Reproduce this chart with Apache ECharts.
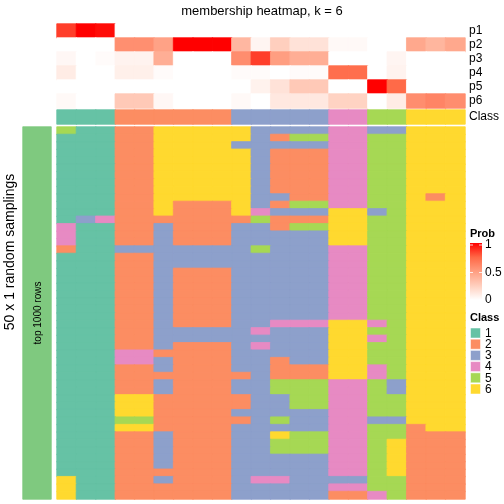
<!DOCTYPE html>
<html><head><meta charset="utf-8">
<script src="https://cdn.jsdelivr.net/npm/echarts@6/dist/echarts.min.js"></script>
<style>html,body{margin:0;padding:0;background:#fff}#c{width:504px;height:504px}</style>
</head><body><div id="c"></div><script>
// ---- data ----
const columnIds = ['s1','s2','s3','s4','s5','s6','s7','s8','s9','s10','s11','s12','s13','s14','s15','s16','s17','s18','s19','s20','s21'];
const probLabels = ['p1','p2','p3','p4','p5','p6'];
const p1 = [0.85,1,0.97,0,0,0,0,0,0,0,0,0,0,0,0,0,0,0,0,0,0];
const p2 = [0,0,0,0.57,0.57,0.48,1,1,1,0.37,0.05,0.25,0.15,0.15,0.03,0.03,0,0,0.45,0.38,0.45];
const p3 = [0.04,0,0.02,0.06,0.06,0.42,0,0,0,0.58,0.85,0.5,0.42,0.42,0,0,0,0.05,0,0,0];
const p4 = [0.1,0,0,0.08,0.08,0.02,0,0,0,0.02,0.02,0,0.02,0.02,0.72,0.72,0,0.06,0,0,0];
const p5 = [0,0,0,0,0,0,0,0,0,0,0.07,0.15,0.28,0.28,0,0,1,0.74,0,0,0];
const p6 = [0.03,0,0,0.28,0.28,0.04,0,0,0,0.03,0,0.12,0.12,0.12,0.23,0.23,0,0.1,0.58,0.62,0.58];
const columnClass = [1,1,1,2,2,2,2,2,2,3,3,3,3,3,4,4,5,5,6,6,6];
const classNames = ['1','2','3','4','5','6'];
const samplingRows = [
[5,1,1,2,2,6,6,6,6,6,3,3,3,3,4,4,3,3,6,6,6],
[1,1,1,2,2,6,6,6,6,6,3,2,5,5,4,4,5,5,6,6,6],
[1,1,1,2,2,6,6,6,6,3,3,3,3,3,4,4,5,5,6,6,6],
[1,1,1,2,2,6,6,6,6,6,3,2,2,2,4,4,5,5,6,6,6],
[1,1,1,2,2,6,6,6,6,6,3,2,2,2,4,4,5,5,6,6,6],
[1,1,1,2,2,6,6,6,6,6,3,2,2,2,4,4,5,5,6,6,6],
[1,1,1,2,2,6,6,6,6,6,3,2,2,2,4,4,5,5,6,6,6],
[1,1,1,2,2,6,6,6,6,6,3,2,2,2,4,4,5,5,6,6,6],
[1,1,1,2,2,6,6,6,6,6,3,2,2,2,4,4,5,5,6,6,6],
[1,1,1,2,2,6,6,6,6,6,3,3,2,2,4,4,5,5,6,2,6],
[1,1,1,2,2,6,2,2,2,6,3,2,5,5,4,4,5,5,6,6,6],
[1,1,1,2,2,6,2,2,2,6,4,3,3,3,6,6,3,5,6,6,6],
[1,3,4,2,2,2,2,2,2,2,5,2,2,2,6,6,5,5,6,6,6],
[4,1,1,2,2,3,2,2,2,3,3,2,5,5,6,6,5,5,6,6,6],
[4,1,1,2,2,3,2,2,2,3,3,3,3,3,6,6,5,5,6,6,6],
[4,1,1,2,2,3,2,2,2,3,3,3,3,3,6,6,5,5,6,6,6],
[2,1,1,3,3,3,3,3,3,3,5,3,3,3,4,4,5,5,6,6,6],
[1,1,1,2,2,3,3,3,3,3,3,3,3,3,4,4,5,5,6,6,6],
[1,1,1,2,2,3,3,3,3,3,3,3,3,3,4,4,5,5,6,6,6],
[1,1,1,2,2,3,2,2,2,3,3,3,3,3,4,4,5,5,6,6,6],
[1,1,1,2,2,3,2,2,2,3,3,3,3,3,4,4,5,5,6,6,6],
[1,1,1,2,2,3,2,2,2,3,3,3,3,3,4,4,5,5,6,6,6],
[1,1,1,2,2,3,2,2,2,3,3,3,3,3,4,4,5,5,6,6,6],
[1,1,1,2,2,3,2,2,2,3,3,3,3,3,4,4,5,5,6,6,6],
[1,1,1,2,2,3,2,2,2,3,3,3,3,3,4,4,5,5,6,6,6],
[1,1,1,2,2,3,2,2,2,3,3,3,3,3,4,4,5,5,6,6,6],
[1,1,1,2,2,3,2,2,2,3,3,4,4,4,6,6,4,5,6,6,6],
[1,1,1,2,2,3,3,3,3,3,4,3,3,3,6,6,5,5,6,6,6],
[1,1,1,2,2,3,3,3,3,3,3,3,3,3,6,6,4,5,6,6,6],
[1,1,1,2,2,3,2,2,2,3,4,3,3,3,6,6,5,5,6,6,6],
[1,1,1,4,4,2,2,2,2,3,3,3,3,3,6,6,5,5,6,6,6],
[1,1,1,4,4,3,2,2,2,3,3,2,3,3,6,6,5,5,6,6,6],
[1,1,1,2,2,3,2,2,2,3,3,2,2,2,6,6,4,5,6,6,6],
[1,1,1,2,2,2,2,2,2,2,3,2,2,2,6,6,4,5,6,6,6],
[1,1,1,2,2,3,2,2,2,3,3,5,5,5,4,4,5,3,6,6,6],
[1,1,1,2,2,3,2,2,2,3,3,5,5,5,4,4,5,3,6,6,6],
[1,1,1,6,6,2,2,2,2,2,3,3,5,5,4,4,5,5,6,6,6],
[1,1,1,6,6,2,2,2,2,2,3,3,5,5,4,4,5,5,6,6,6],
[1,1,1,6,6,2,2,2,2,3,3,3,3,3,4,4,5,5,6,6,6],
[1,1,1,5,5,2,2,2,2,2,3,5,3,3,4,4,3,3,6,6,6],
[1,1,1,6,6,2,2,2,2,3,3,3,3,3,4,4,5,5,2,6,6],
[1,1,1,2,2,3,2,2,2,3,3,6,5,5,4,4,5,5,2,2,2],
[1,1,1,2,2,3,2,2,2,3,3,5,5,5,4,4,5,6,2,2,2],
[1,1,1,2,2,3,2,2,2,3,3,5,5,5,4,4,5,6,2,2,2],
[1,1,1,2,2,3,2,2,2,3,3,3,3,3,4,4,5,6,2,2,2],
[1,1,1,2,2,3,2,2,2,3,3,3,3,3,4,4,5,6,2,2,2],
[1,1,1,2,2,2,2,2,2,3,3,3,3,3,4,4,5,6,2,2,2],
[6,1,1,2,2,3,2,2,2,3,4,4,3,3,3,3,5,5,2,2,2],
[6,1,1,2,2,2,2,2,2,3,3,3,3,3,4,4,5,5,2,2,2],
[6,1,1,2,2,2,2,2,2,3,3,3,3,3,2,2,4,5,2,2,2]
];
const rowGroupLabel = ['top 1000 rows'];
const probTicks = [1, 0.5, 0];

// ---- styles ----
const classColors = ['#66C2A5','#FC8D62','#8DA0CB','#E78AC3','#A6D854','#FFD92F'];
const probColors = ['#FFFFFF','#FFCFBE','#FF9E81','#FF6846','#FF0000'];
const FONT = 'Liberation Sans, Arial, sans-serif';

function hex2rgb(h){ return [1,3,5].map(i => parseInt(h.substr(i,2),16)); }
function probColor(v){
  const n = probColors.length - 1;
  const t = Math.max(0, Math.min(1, v)) * n;
  const i = Math.min(n - 1, Math.floor(t)), f = t - i;
  const a = hex2rgb(probColors[i]), b = hex2rgb(probColors[i+1]);
  return 'rgb(' + a.map((x,k) => Math.round(x + (b[k]-x)*f)).join(',') + ')';
}
function cell(c, r, v, color){
  return {value:[c, r, v], itemStyle:{color:color, borderColor:color, borderWidth:0.8}};
}

const probSeries = [p1,p2,p3,p4,p5,p6];
const probData = [];
probSeries.forEach((arr, r) => arr.forEach((v, c) => probData.push(cell(c, r, v, probColor(v)))));
const classData = columnClass.map((v, c) => cell(c, 0, v, classColors[v-1]));
const rowIdx = samplingRows.map((_, i) => 'r' + (i + 1));
const mainData = [];
samplingRows.forEach((row, r) => row.forEach((v, c) => mainData.push(cell(c, r, v, classColors[v-1]))));

const L = 57, W = 408;
const hidden = {show:false};
function xAx(i){ return {type:'category', data:columnIds, gridIndex:i, show:false}; }

const chart = echarts.init(document.getElementById('c'), null, {renderer:'canvas'});
const gfx = [];
gfx.push({type:'text', z:100, x:262, y:11, style:{text:'membership heatmap, k = 6', font:'13px '+FONT, fill:'#000', textAlign:'center', textVerticalAlign:'middle'}});
gfx.push({type:'text', z:100, x:10, y:252, rotation:Math.PI/2, style:{text:'50 x 1 random samplings', font:'14px '+FONT, fill:'#000', textAlign:'center', textVerticalAlign:'middle'}});
gfx.push({type:'text', z:100, x:38, y:313, rotation:Math.PI/2, style:{text:rowGroupLabel[0], font:'10px '+FONT, fill:'#000', textAlign:'center', textVerticalAlign:'middle'}});
// Prob legend
gfx.push({type:'text', z:100, x:470, y:234, style:{text:'Prob', font:'bold 11px '+FONT, fill:'#000', textVerticalAlign:'middle'}});
const barTop = 243, barH = 57;
gfx.push({type:'rect', z:100, shape:{x:470, y:barTop, width:12, height:barH}, style:{fill:{type:'linear', x:0, y:0, x2:0, y2:1, colorStops:probColors.slice().reverse().map((c,i)=>({offset:i/(probColors.length-1), color:c}))}}});
probTicks.forEach(t => {
  const y = barTop + 2 + (1 - t) * (barH - 2);
  gfx.push({type:'line', z:101, shape:{x1:470, y1:y, x2:473, y2:y}, style:{stroke:'rgba(255,255,255,0.8)', lineWidth:1}});
  gfx.push({type:'line', z:101, shape:{x1:479, y1:y, x2:482, y2:y}, style:{stroke:'rgba(255,255,255,0.8)', lineWidth:1}});
  gfx.push({type:'text', z:100, x:485, y:y, style:{text:String(t), font:'12px '+FONT, fill:'#000', textVerticalAlign:'middle'}});
});
// Class legend
gfx.push({type:'text', z:100, x:470, y:318, style:{text:'Class', font:'bold 11px '+FONT, fill:'#000', textVerticalAlign:'middle'}});
classNames.forEach((n, i) => {
  const y = 328 + i * 11.2;
  gfx.push({type:'rect', z:100, shape:{x:470.5, y:y, width:10, height:10}, style:{fill:classColors[i], stroke:'rgba(255,255,255,0.5)', lineWidth:1}});
  gfx.push({type:'text', z:100, x:485, y:y+5.5, style:{text:n, font:'12px '+FONT, fill:'#000', textVerticalAlign:'middle'}});
});

chart.setOption({
  animation:false,
  backgroundColor:'#fff',
  grid:[
    {left:L, top:24, width:W, height:84},
    {left:L, top:110, width:W, height:14},
    {left:L, top:127, width:W, height:372},
    {left:23, top:127, width:28, height:372}
  ],
  xAxis:[xAx(0), xAx(1), xAx(2), {type:'category', data:['g'], gridIndex:3, show:false}],
  yAxis:[
    {type:'category', data:probLabels, gridIndex:0, inverse:true, position:'right', axisLine:hidden, axisTick:hidden, splitLine:hidden,
     axisLabel:{interval:0, margin:4, fontSize:12, color:'#000', fontFamily:FONT}},
    {type:'category', data:['Class'], gridIndex:1, position:'right', axisLine:hidden, axisTick:hidden, splitLine:hidden,
     axisLabel:{interval:0, margin:4, fontSize:12, color:'#000', fontFamily:FONT}},
    {type:'category', data:rowIdx, gridIndex:2, inverse:true, show:false},
    {type:'category', data:['g'], gridIndex:3, show:false}
  ],
  series:[
    {type:'heatmap', xAxisIndex:0, yAxisIndex:0, data:probData, emphasis:{disabled:true}},
    {type:'heatmap', xAxisIndex:1, yAxisIndex:1, data:classData, emphasis:{disabled:true}},
    {type:'heatmap', xAxisIndex:2, yAxisIndex:2, data:mainData, emphasis:{disabled:true}},
    {type:'heatmap', xAxisIndex:3, yAxisIndex:3, data:[cell(0,0,1,'#7FC97F')], emphasis:{disabled:true}}
  ],
  graphic:gfx
});
</script></body></html>
